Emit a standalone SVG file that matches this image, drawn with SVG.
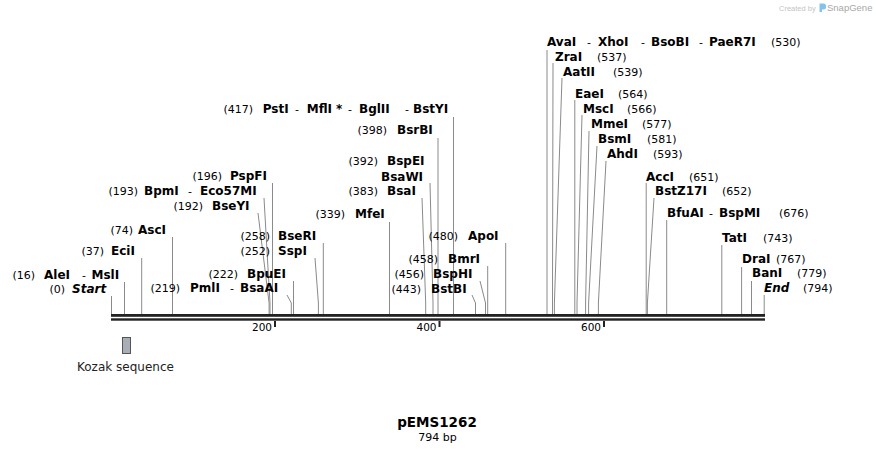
<svg xmlns="http://www.w3.org/2000/svg" width="876" height="453" viewBox="0 0 876 453">
<style>
text{font-family:"DejaVu Sans",Verdana,sans-serif;fill:#000}
.n{font-size:11px}
.ne{font-size:11px;text-anchor:end}
.b{font-size:12px;font-weight:bold}
.bi{font-size:12px;font-weight:bold;font-style:italic}
.ln{stroke:#8a8a8a;stroke-width:1;fill:none}
.tk{font-size:10.5px;text-anchor:end}
</style>
<rect width="876" height="453" fill="#fff"/>
<g id="logo">
<text x="779" y="10.5" style="font-family:'Liberation Sans',Arial,sans-serif;font-size:7.5px;fill:#c4c4c4">Created by</text>
<path d="M819.5 3.5 h4 a2.5 2.5 0 0 1 2.5 2.5 v1 a2.5 2.5 0 0 1 -2.5 2.5 h-1.5 v2.5 h-2.5 z" fill="#82c3ee"/>
<text x="827" y="10.7" style="font-family:'Liberation Sans',Arial,sans-serif;font-size:9.5px;fill:#a8a8a8">SnapGene</text>
</g>
<g id="connectors">
<polyline class="ln" points="111.5,296 111.5,314"/>
<polyline class="ln" points="124.5,282 124.5,314"/>
<polyline class="ln" points="141.7,258 141.7,314"/>
<polyline class="ln" points="172.5,237 172.5,314"/>
<polyline class="ln" points="258,213 269.1,303 269.1,314"/>
<polyline class="ln" points="264,198 270,303 270,314"/>
<polyline class="ln" points="272.5,183 272.5,314"/>
<polyline class="ln" points="287,295 291.3,303 291.3,314"/>
<polyline class="ln" points="293.5,281 293.5,314"/>
<polyline class="ln" points="315,258 318.4,303 318.4,314"/>
<polyline class="ln" points="323.3,243 323.3,314"/>
<polyline class="ln" points="389.5,222 389.5,314"/>
<polyline class="ln" points="422,198 425.7,303 425.7,314"/>
<polyline class="ln" points="430,183 433,303 433,314"/>
<polyline class="ln" points="438,138 438,314"/>
<polyline class="ln" points="453.5,117 453.5,314"/>
<polyline class="ln" points="472,295 475.5,303 475.5,314"/>
<polyline class="ln" points="480,281 485.5,303 485.5,314"/>
<polyline class="ln" points="487.7,266 487.7,314"/>
<polyline class="ln" points="505.7,243 505.7,314"/>
<polyline class="ln" points="547,50 547,314"/>
<polyline class="ln" points="553,63 552.5,303 552.5,314"/>
<polyline class="ln" points="562,78 554.4,303 554.4,314"/>
<polyline class="ln" points="574.8,100 574.8,314"/>
<polyline class="ln" points="582,115 577,303 577,314"/>
<polyline class="ln" points="589,131 585.6,303 585.6,314"/>
<polyline class="ln" points="597,146 588.6,303 588.6,314"/>
<polyline class="ln" points="606,161 598.4,303 598.4,314"/>
<polyline class="ln" points="646.2,183 646.2,314"/>
<polyline class="ln" points="654,198 647.4,303 647.4,314"/>
<polyline class="ln" points="666.7,220 666.7,314"/>
<polyline class="ln" points="721.8,245 721.8,314"/>
<polyline class="ln" points="741.6,267 741.6,314"/>
<polyline class="ln" points="751.5,281 751.5,314"/>
<polyline class="ln" points="764.2,295 764.2,314"/>
</g>
<g id="backbone">
<rect x="111" y="314" width="654" height="2.8" fill="#222"/>
<rect x="111" y="318.3" width="654" height="2.4" fill="#222"/>
<rect x="274" y="321" width="2" height="6" fill="#222"/>
<rect x="438.5" y="321" width="2" height="6" fill="#222"/>
<rect x="603" y="321" width="2" height="6" fill="#222"/>
<text class="tk" x="272" y="331">200</text>
<text class="tk" x="436.5" y="331">400</text>
<text class="tk" x="601" y="331">600</text>
</g>
<g id="site-start"><text class="ne" x="65" y="293">(0)</text><text class="bi" x="72" y="293">Start</text></g>
<g id="site-16"><text class="ne" x="35" y="279">(16)</text><text class="b" x="44" y="279">AleI</text><text class="n" x="82" y="279">-</text><text class="b" x="91.5" y="279">MslI</text></g>
<g id="site-37"><text class="ne" x="104" y="255">(37)</text><text class="b" x="111" y="255">EciI</text></g>
<g id="site-74"><text class="ne" x="133" y="234">(74)</text><text class="b" x="138" y="234">AscI</text></g>
<g id="site-192"><text class="ne" x="203" y="210">(192)</text><text class="b" x="212" y="210">BseYI</text></g>
<g id="site-193"><text class="ne" x="138" y="195">(193)</text><text class="b" x="144" y="195">BpmI</text><text class="n" x="188" y="195">-</text><text class="b" x="200" y="195">Eco57MI</text></g>
<g id="site-196"><text class="ne" x="222" y="180">(196)</text><text class="b" x="230" y="180">PspFI</text></g>
<g id="site-219"><text class="ne" x="180" y="292">(219)</text><text class="b" x="190" y="292">PmlI</text><text class="n" x="230" y="292">-</text><text class="b" x="240" y="292">BsaAI</text></g>
<g id="site-222"><text class="ne" x="238" y="278">(222)</text><text class="b" x="247" y="278">BpuEI</text></g>
<g id="site-252"><text class="ne" x="270" y="255">(252)</text><text class="b" x="278" y="255">SspI</text></g>
<g id="site-258"><text class="ne" x="270" y="240">(258)</text><text class="b" x="278" y="240">BseRI</text></g>
<g id="site-339"><text class="ne" x="345" y="218">(339)</text><text class="b" x="355" y="218">MfeI</text></g>
<g id="site-383"><text class="ne" x="378" y="195">(383)</text><text class="b" x="387" y="195">BsaI</text></g>
<g id="site-392"><text class="ne" x="378" y="165">(392)</text><text class="b" x="387" y="165">BspEI</text><text class="b" x="381" y="181">BsaWI</text></g>
<g id="site-398"><text class="ne" x="387" y="134">(398)</text><text class="b" x="397" y="134">BsrBI</text></g>
<g id="site-417"><text class="ne" x="253" y="113">(417)</text><text class="b" x="262.7" y="113">PstI</text><text class="n" x="295" y="113">-</text><text class="b" x="306.7" y="113">MflI</text><text class="b" x="336" y="113">*</text><text class="n" x="348" y="113">-</text><text class="b" x="359" y="113">BglII</text><text class="n" x="405" y="113">-</text><text class="b" x="413" y="113">BstYI</text></g>
<g id="site-443"><text class="ne" x="421" y="293">(443)</text><text class="b" x="431" y="293">BstBI</text></g>
<g id="site-456"><text class="ne" x="424" y="278">(456)</text><text class="b" x="433" y="278">BspHI</text></g>
<g id="site-458"><text class="ne" x="438" y="263">(458)</text><text class="b" x="448" y="263">BmrI</text></g>
<g id="site-480"><text class="ne" x="458" y="240">(480)</text><text class="b" x="468" y="240">ApoI</text></g>
<g id="site-530"><text class="b" x="547" y="46">AvaI</text><text class="n" x="587" y="46">-</text><text class="b" x="598" y="46">XhoI</text><text class="n" x="641" y="46">-</text><text class="b" x="651" y="46">BsoBI</text><text class="n" x="699" y="46">-</text><text class="b" x="709" y="46">PaeR7I</text><text class="n" x="771" y="46">(530)</text></g>
<g id="site-537"><text class="b" x="555" y="61">ZraI</text><text class="n" x="597" y="61">(537)</text></g>
<g id="site-539"><text class="b" x="563" y="76">AatII</text><text class="n" x="613" y="76">(539)</text></g>
<g id="site-564"><text class="b" x="575" y="98">EaeI</text><text class="n" x="618" y="98">(564)</text></g>
<g id="site-566"><text class="b" x="583" y="113">MscI</text><text class="n" x="627" y="113">(566)</text></g>
<g id="site-577"><text class="b" x="591" y="128">MmeI</text><text class="n" x="642" y="128">(577)</text></g>
<g id="site-581"><text class="b" x="598" y="143">BsmI</text><text class="n" x="647" y="143">(581)</text></g>
<g id="site-593"><text class="b" x="607" y="158">AhdI</text><text class="n" x="653" y="158">(593)</text></g>
<g id="site-651"><text class="b" x="646" y="181">AccI</text><text class="n" x="689" y="181">(651)</text></g>
<g id="site-652"><text class="b" x="655" y="195">BstZ17I</text><text class="n" x="722" y="195">(652)</text></g>
<g id="site-676"><text class="b" x="667" y="217">BfuAI</text><text class="n" x="709" y="217">-</text><text class="b" x="719" y="217">BspMI</text><text class="n" x="779" y="217">(676)</text></g>
<g id="site-743"><text class="b" x="722" y="242">TatI</text><text class="n" x="763" y="242">(743)</text></g>
<g id="site-767"><text class="b" x="742" y="263">DraI</text><text class="n" x="776" y="263">(767)</text></g>
<g id="site-779"><text class="b" x="752" y="277">BanI</text><text class="n" x="797" y="277">(779)</text></g>
<g id="site-end"><text class="bi" x="764" y="292">End</text><text class="n" x="803" y="292">(794)</text></g>
<g id="feature-kozak">
<rect x="122.5" y="337.5" width="8" height="16" fill="#a9adb5" stroke="#555" stroke-width="1"/>
<text x="77" y="371" style="font-size:12px;fill:#222">Kozak sequence</text>
</g>
<g id="title">
<text x="437" y="427" text-anchor="middle" style="font-size:13.5px;font-weight:bold">pEMS1262</text>
<text x="437.5" y="441" text-anchor="middle" style="font-size:11px">794 bp</text>
</g>
</svg>
